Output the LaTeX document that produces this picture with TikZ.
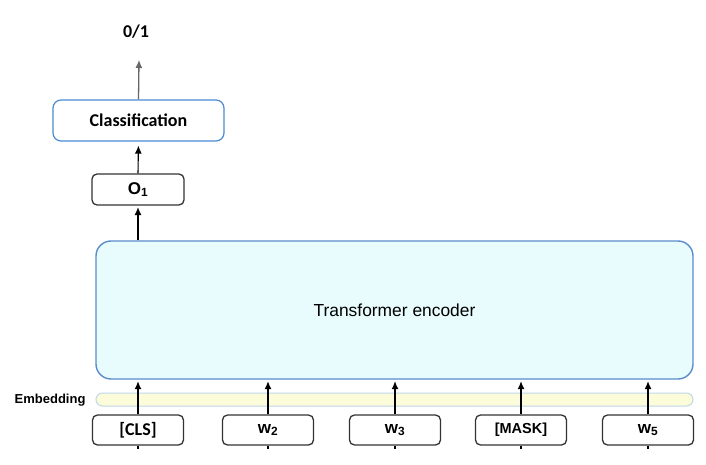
\documentclass[tikz,border=0pt]{standalone}
\usepackage{fontspec}
\setmainfont{Liberation Sans}
\newfontfamily\calibri{Carlito}
\usetikzlibrary{arrows.meta}
\definecolor{encfill}{HTML}{E8FCFD}
\definecolor{encline}{HTML}{5A8BCB}
\definecolor{embfill}{HTML}{FCFCDA}
\definecolor{embline}{HTML}{C0D8EA}
\definecolor{clfline}{HTML}{4A8AD4}
\definecolor{boxline}{HTML}{333333}
\definecolor{outarrow}{HTML}{666666}
\begin{document}
\begin{tikzpicture}[x=1pt,y=-1pt,
    tokbox/.style={draw=boxline, line width=1.3pt, rounded corners=5pt, fill=white,
        minimum width=91pt, minimum height=30pt, inner sep=0pt},
    arr/.style={-{Latex[length=8pt,width=7pt]}, line width=1.1pt}]
    \useasboundingbox (0,0) rectangle (706,465);
    % embedding bar and encoder
    \node[draw=embline, fill=embfill, line width=1pt, rounded corners=6.5pt,
        minimum width=597pt, minimum height=13pt, inner sep=0pt] (emb) at (394.5,399.5) {};
    \node[anchor=east, font=\bfseries\fontsize{13}{15}\selectfont] (emblabel) at (89,400) {Embedding};
    \node[draw=encline, fill=encfill, line width=1.4pt, rounded corners=15pt,
        minimum width=597pt, minimum height=138pt, font=\fontsize{17.4}{20}\selectfont] (enc) at (394.5,310) {Transformer encoder};
    % output side
    \node[tokbox, minimum width=92pt, minimum height=31pt, font=\bfseries\fontsize{17}{20}\selectfont] (o1) at (138,189.5) {O\textsubscript{1}};
    \node[draw=clfline, line width=1.2pt, rounded corners=8pt, fill=white,
        minimum width=171pt, minimum height=41pt, font=\calibri\bfseries\fontsize{18}{21}\selectfont] (clf) at (138.5,120.5) {Classification};
    \node[font=\calibri\bfseries\fontsize{18}{21}\selectfont] (out) at (136,32) {0/1};
    \coordinate (outtip) at (139,60);
    \draw[arr, shorten >=1.5pt] (enc.north -| o1) -- (o1.south);
    \draw[arr, shorten >=4pt] (o1.north) -- (clf.south);
    \draw[arr, outarrow, line width=1.3pt] (clf.north) -- (outtip);
    % input tokens
    \foreach \name/\x/\txt in {cls/138/{\calibri\bfseries\fontsize{18}{21}\selectfont [CLS]},
        wtwo/268/{\fontsize{17}{20}\selectfont w\textsubscript{2}},
        wthree/395/{\fontsize{17}{20}\selectfont w\textsubscript{3}},
        mask/521/{\fontsize{14.5}{17}\selectfont [MASK]},
        wfive/648/{\fontsize{17}{20}\selectfont w\textsubscript{5}}} {
        \node[tokbox, font=\bfseries] (\name) at (\x,430) {\txt};
        \draw[arr, shorten >=1.5pt] (\name.north) -- (\name |- enc.south);
        \draw[line width=1.1pt] (\name.south) -- ++(0,3);
    }
\end{tikzpicture}
\end{document}
